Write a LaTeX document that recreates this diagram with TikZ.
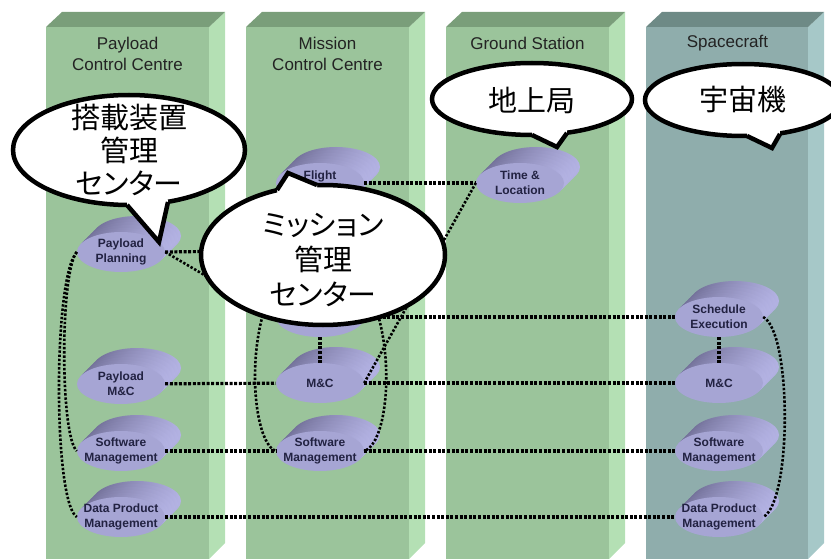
\documentclass[tikz,border=0pt]{standalone}
\usepackage{fontspec}
\setmainfont{Liberation Sans}
\newfontfamily\jpfont[RawFeature=+palt]{Noto Sans CJK JP}
\usetikzlibrary{shapes.geometric}
\definecolor{greenFront}{RGB}{155,196,155}
\definecolor{greenSide}{RGB}{180,224,180}
\definecolor{greenTop}{RGB}{122,158,122}
\definecolor{craftFront}{RGB}{143,173,172}
\definecolor{craftSide}{RGB}{166,200,200}
\definecolor{craftTop}{RGB}{110,138,134}
\definecolor{diskFront}{RGB}{166,165,212}
\definecolor{diskDark}{RGB}{112,110,150}
\definecolor{diskLight}{RGB}{180,179,228}
\definecolor{diskText}{RGB}{34,34,66}
\definecolor{headText}{RGB}{35,35,35}

\tikzset{
  diskLayer/.style={preaction={left color=diskDark, right color=diskLight,
      transform canvas={shift={(#1pt,#1pt)}}}},
  disk/.style={ellipse, fill=diskFront, minimum width=88pt, minimum height=40pt,
      inner xsep=-8pt, inner ysep=0pt, align=center, text=diskText,
      font=\bfseries\fontsize{12}{15}\selectfont,
      diskLayer=16, diskLayer=13, diskLayer=10, diskLayer=7, diskLayer=4, diskLayer=2},
  header/.style={align=center, text=headText, font=\fontsize{17}{21}\selectfont},
  linkLine/.style={line width=3.2pt, dash pattern=on 3pt off 1.6pt},
  curveLine/.style={line width=2.6pt, dash pattern=on 2.4pt off 1.8pt},
  bubble/.style={fill=white, draw=black, line width=4.5pt},
  tailLine/.style={line width=4.5pt, line join=miter},
  bubbleText/.style={align=center, font=\jpfont\fontsize{29}{33}\selectfont}
}

\begin{document}
\begin{tikzpicture}[x=1pt, y=-1pt]
    \useasboundingbox (0,0) rectangle (831,559);
    \clip (0,0) rectangle (831,559);

    % COLUMNS
    \foreach \x in {46,246,446} {
        \fill[greenFront] (\x,27) rectangle (\x+163,559);
        \fill[greenSide] (\x+163,27) -- (\x+179,12) -- (\x+179,543) -- (\x+163,559) -- cycle;
        \fill[greenTop] (\x,27) -- (\x+16,12) -- (\x+179,12) -- (\x+163,27) -- cycle;
    }
    % Spacecraft
    \fill[craftFront] (646,27) rectangle (808,559);
    \fill[craftSide] (808,27) -- (824,12) -- (824,543) -- (808,559) -- cycle;
    \fill[craftTop] (646,27) -- (662,12) -- (824,12) -- (808,27) -- cycle;

    % Headers
    \node[header] (hdPayload) at (127.5,53.5) {Payload\\Control Centre};
    \node[header] (hdMission) at (327.5,53.5) {Mission\\Control Centre};
    \node[header] (hdGround) at (527.5,43) {Ground Station};
    \node[header] (hdCraft) at (727.5,43) {Spacecraft};

    % FUNCTIONS
    % Payload Control Centre
    \node[disk] (pcPlan) at (121,252) {Payload\\Planning};
    \node[disk] (pcMC) at (121,384) {Payload\\M\&C};
    \node[disk] (pcSoft) at (121,451) {Software\\Management};
    \node[disk] (pcData) at (121,517) {Data Product\\Management};

    % Mission Control Centre
    \node[disk] (mcFlight) at (320,183) {Flight\\~};
    \coordinate (mcPlan) at (320,250);
    \node[disk] (mcSched) at (320,317) {};
    \node[disk] (mcMC) at (320,383) {M\&C};
    \node[disk] (mcSoft) at (320,451) {Software\\Management};

    % Ground Station
    \node[disk] (gsTime) at (520,183) {Time \&\\Location};

    % Spacecraft
    \node[disk] (scExec) at (719,317) {Schedule\\Execution};
    \node[disk] (scMC) at (719,383) {M\&C};
    \node[disk] (scSoft) at (719,451) {Software\\Management};
    \node[disk] (scData) at (719,517) {Data Product\\Management};

    % LINKS
    \draw[linkLine] (pcPlan.east) -- (mcPlan);
    \draw[curveLine] (pcPlan.east) -- (mcSched.west);
    \draw[linkLine] (mcFlight.east) -- (gsTime.west);
    \draw[curveLine] (mcMC.east) -- (gsTime.west);
    \draw[linkLine] (mcSched.east) -- (scExec.west);
    \draw[linkLine] (mcSched) -- (mcMC);
    \draw[linkLine] (scExec) -- (scMC);
    \draw[linkLine] (pcMC) -- (mcMC);
    \draw[linkLine] (mcMC) -- (scMC);
    \draw[linkLine] (pcSoft) -- (mcSoft);
    \draw[linkLine] (mcSoft) -- (scSoft);
    \draw[linkLine] (pcData) -- (scData);

    % Curves
    \draw[curveLine] (pcPlan.west) .. controls (53,277) and (53,502) .. (pcData.west);
    \draw[curveLine] (pcPlan.west) .. controls (60,272) and (60,436) .. (pcSoft.west);
    \draw[curveLine] (mcPlan) .. controls (240,260) and (245,440) .. (mcSoft.west);
    \draw[curveLine] (mcPlan) .. controls (400,260) and (398,440) .. (mcSoft.east);
    \draw[curveLine] (scExec.east) .. controls (792,332) and (792,502) .. (scData.east);

    % BUBBLES
    % Payload
    \draw[bubble] (129,150) ellipse [x radius=116pt, y radius=55pt];
    \fill[white] (127,205) -- (159,242) -- (168,202) -- (166,188) -- (128,190) -- cycle;
    \draw[tailLine] (127,205) -- (159,242) -- (168,202);
    \node[bubbleText] (txPayload) at (129,150) {搭載装置\\管理\\センター};

    % Mission
    \draw[bubble] (323,255) ellipse [x radius=122pt, y radius=70pt];
    \fill[white] (277,190) -- (288,173) -- (317,185) -- (317,198) -- (279,202) -- cycle;
    \draw[tailLine] (277,190) -- (288,173) -- (317,185);
    \node[bubbleText, font=\jpfont\fontsize{29}{35}\selectfont] (txMission) at (323,260)
        {ミッション\\管理\\センター};

    % Ground
    \draw[bubble] (532,99) ellipse [x radius=100pt, y radius=36pt];
    \fill[white] (532,135) -- (557,147) -- (567,133) -- (566,121) -- (533,122) -- cycle;
    \draw[tailLine] (532,135) -- (557,147) -- (567,133);
    \node[bubbleText] (txGround) at (532,100) {地上局};

    % Spacecraft
    \draw[bubble] (743,100) ellipse [x radius=98pt, y radius=36pt];
    \fill[white] (747,136) -- (772,148) -- (780,134) -- (779,122) -- (748,123) -- cycle;
    \draw[tailLine] (747,136) -- (772,148) -- (780,134);
    \node[bubbleText] (txCraft) at (743,100) {宇宙機};
\end{tikzpicture}
\end{document}
